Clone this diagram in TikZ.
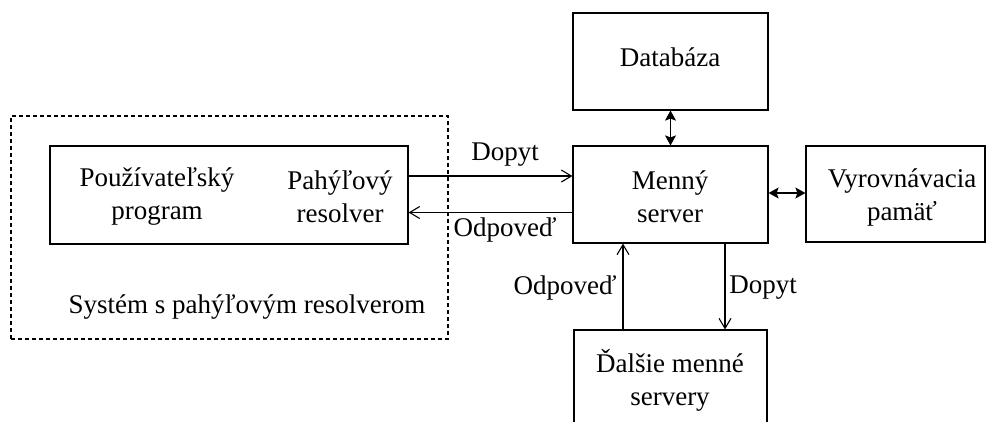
\documentclass[tikz,border=0pt]{standalone}
\usepackage{fontspec}
\setmainfont{Liberation Serif}
\usetikzlibrary{arrows.meta}
\begin{document}
\begin{tikzpicture}[x=1pt,y=-1pt,
  box/.style={draw, line width=1.2pt, inner sep=0pt},
  txt/.style={font=\fontsize{27}{33}\selectfont, align=center, inner sep=0pt},
  flow/.style={line width=1.1pt, -{Straight Barb[length=10pt,width=12pt]}},
  link/.style={line width=1.2pt, {Stealth[length=10pt,width=11pt,inset=2pt]}-{Stealth[length=10pt,width=11pt,inset=2pt]}}]
  \clip (0,0) rectangle (987,421);
  \fill[white] (0,0) rectangle (987,421);

  % boxes
  \node[box, dash pattern=on 4pt off 3pt, minimum width=437pt, minimum height=223pt] (sys) at (229.5,227.5) {};
  \node[box, minimum width=358pt, minimum height=98pt] (client) at (229,195) {};
  \node[box, minimum width=195pt, minimum height=97pt] (db) at (670.5,61.5) {};
  \node[box, minimum width=195pt, minimum height=97pt] (ns) at (670.5,194.5) {};
  \node[box, minimum width=179pt, minimum height=96pt] (cache) at (895.5,194) {};
  \node[box, minimum width=193pt, minimum height=120pt] (other) at (670.5,390) {};

  % texts
  \node[txt] (tdb) at (670,57) {Databáza};
  \node[txt] (tns) at (670,197) {Menný\\server};
  \node[txt] (tcache) at (902,197) {Vyrovnávacia\\pamäť};
  \node[txt] (tprog) at (157,197) {Používateľský\\program};
  \node[txt] (tres) at (340,197) {Pahýľový\\resolver};
  \node[txt] (tsys) at (247,307) {Systém s pahýľovým resolverom};
  \node[txt] (tother) at (670,380) {Ďalšie menné\\servery};

  % connectors
  \draw[flow] ([yshift=19pt]client.east) -- ([yshift=19pt]client.east -| ns.west);
  \draw[flow] ([yshift=-18pt]ns.west) -- ([yshift=-18pt]ns.west -| client.east);
  \draw[flow] ([xshift=-47.5pt]other.north) -- ([xshift=-47.5pt]other.north |- ns.south);
  \draw[flow] ([xshift=54.5pt]ns.south) -- ([xshift=54.5pt]ns.south |- other.north);
  \draw[link] (db.south) -- (ns.north);
  \draw[link] ([yshift=1.5pt]ns.east) -- ([yshift=1.5pt]ns.east -| cache.west);

  % connector labels
  \node[txt] (lq1) at (505,155) {Dopyt};
  \node[txt] (la1) at (505,230) {Odpoveď};
  \node[txt] (la2) at (565,288) {Odpoveď};
  \node[txt] (lq2) at (763,288) {Dopyt};
\end{tikzpicture}
\end{document}
